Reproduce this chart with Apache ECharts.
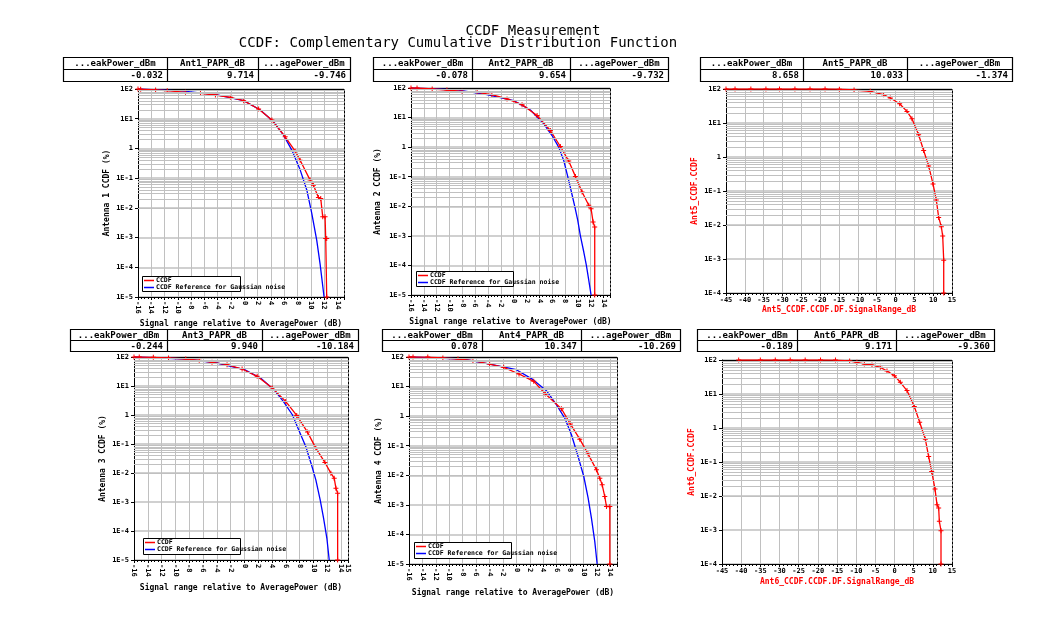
<!DOCTYPE html>
<html><head><meta charset="utf-8">
<script src="https://cdn.jsdelivr.net/npm/echarts@6/dist/echarts.min.js"></script>
<style>html,body{margin:0;padding:0;background:#fff}#c{width:1044px;height:626px}</style>
</head><body><div id="c"></div>
<script>
// ---------------- DATA ----------------
const titleLine1 = 'CCDF Measurement';
const titleLine2 = 'CCDF: Complementary Cumulative Distribution Function';

const legendNames = ['CCDF', 'CCDF Reference for Gaussian noise'];

const t1Headers = ['...eakPower_dBm', 'Ant1_PAPR_dB', '...agePower_dBm'];
const t1Values = ['-0.032', '9.714', '-9.746'];
const t2Headers = ['...eakPower_dBm', 'Ant2_PAPR_dB', '...agePower_dBm'];
const t2Values = ['-0.078', '9.654', '-9.732'];
const t3Headers = ['...eakPower_dBm', 'Ant5_PAPR_dB', '...agePower_dBm'];
const t3Values = ['8.658', '10.033', '-1.374'];
const t4Headers = ['...eakPower_dBm', 'Ant3_PAPR_dB', '...agePower_dBm'];
const t4Values = ['-0.244', '9.940', '-10.184'];
const t5Headers = ['...eakPower_dBm', 'Ant4_PAPR_dB', '...agePower_dBm'];
const t5Values = ['0.078', '10.347', '-10.269'];
const t6Headers = ['...eakPower_dBm', 'Ant6_PAPR_dB', '...agePower_dBm'];
const t6Values = ['-0.189', '9.171', '-9.360'];

const yNames = ['Antenna 1 CCDF (%)', 'Antenna 2 CCDF (%)', 'Ant5_CCDF.CCDF',
                'Antenna 3 CCDF (%)', 'Antenna 4 CCDF (%)', 'Ant6_CCDF.CCDF'];
const xNames = ['Signal range relative to AveragePower (dB)', 'Signal range relative to AveragePower (dB)',
                'Ant5_CCDF.CCDF.DF.SignalRange_dB', 'Signal range relative to AveragePower (dB)',
                'Signal range relative to AveragePower (dB)', 'Ant6_CCDF.CCDF.DF.SignalRange_dB'];

// y tick labels (log axis, %)
const yTickValues = [100, 10, 1, 0.1, 0.01, 0.001, 0.0001, 0.00001];
const yTickLabels = ['1E2', '1E1', '1', '1E-1', '1E-2', '1E-3', '1E-4', '1E-5'];

// [dB, CCDF %]
const p1Red = [[-16,100],[-15.6,99],[-13.35,92.5],[-11.6,87.8],[-8.85,77.2],[-6.6,71.5],[-4.35,62.8],[-2.1,52.4],[-0.1,40.5],[2.15,21.2],[4.15,9.0],[6.15,2.47],[7.65,0.81],[8.4,0.40],[9.9,0.086],[10.4,0.058],[11.15,0.0223],[11.5,0.0206],[11.8,0.00498],[12.15,0.00498],[12.25,0.00093],[12.4,0.00093],[12.4,0.00001]];
const p1Blue = [[-16,100],[-9.1,85],[-4.1,63],[-0.1,40.5],[2.4,19.6],[4.4,7.9],[5.9,2.8],[7.15,0.88],[8.4,0.19],[9.4,0.04],[10.15,0.0065],[10.9,0.00081],[11.4,0.00013],[12,0.00001]];

const p2Red = [[-16,100],[-15.06,100],[-12.7,92.5],[-10.4,85.7],[-8.05,77.2],[-5.7,71.5],[-3.4,59.6],[-1.04,42.6],[1.3,27.4],[3.64,11.7],[5.71,3.65],[7.27,1.05],[8.57,0.337],[9.61,0.1026],[10.65,0.0304],[11.69,0.0108],[12.05,0.0083],[12.36,0.00296],[12.62,0.00201],[12.62,0.00001]];
const p2Blue = [[-16,100],[-8.83,85.7],[-4.16,59.6],[0,37.4],[2.6,18.1],[4.68,6.1],[5.97,2.47],[7.01,1.0],[7.79,0.356],[8.42,0.1],[8.99,0.0304],[9.51,0.01],[9.97,0.0034],[10.39,0.001],[10.91,0.00029],[11.32,0.0001],[11.69,0.000032],[12.05,0.00001]];

const p3Red = [[-45,100],[-42.6,100],[-38.4,100],[-34.4,100],[-30.8,100],[-26.7,100],[-22.7,100],[-18.7,100],[-14.9,99],[-11.0,93.4],[-6.7,85.3],[-3.16,68.1],[-1.38,54.3],[1.1,36.9],[3.04,21.9],[4.37,13.3],[6.14,4.5],[7.47,1.55],[8.8,0.547],[9.96,0.161],[10.84,0.0543],[11.46,0.0167],[12.17,0.0089],[12.53,0.00472],[12.8,0.00092],[12.8,0.0001]];

const p4Red = [[-16,100],[-15.24,100],[-13.2,97.4],[-11.0,92.3],[-8.5,85.3],[-6.55,76.7],[-4.7,65.5],[-2.52,54.3],[-0.34,38.5],[1.84,21.5],[4.03,8.5],[5.97,2.95],[7.57,0.97],[9.13,0.257],[10.34,0.072],[11.65,0.0231],[12.52,0.0099],[13.0,0.00665],[13.25,0.0030],[13.5,0.00202],[13.5,0.00001]];
const p4Blue = [[-16,100],[-8.35,85.3],[-3.98,62.1],[0,36.6],[2.33,18.8],[4.27,7.45],[5.63,2.95],[6.94,1.02],[7.91,0.286],[8.88,0.0824],[9.71,0.0192],[10.34,0.00582],[10.97,0.00119],[11.46,0.000277],[11.94,0.000056],[12.28,0.00001]];

const p5Red = [[-16,100],[-15.4,100],[-13.2,99.5],[-10.95,92.5],[-8.7,85.6],[-6.47,75.2],[-3.98,57.9],[-1.89,44.7],[0.4,26.6],[2.59,15.0],[4.33,5.58],[6.72,1.78],[8.06,0.538],[9.45,0.167],[10.7,0.052],[11.94,0.0153],[12.44,0.0080],[12.79,0.00475],[13.18,0.00191],[13.43,0.00088],[13.93,0.00088],[13.93,0.00001]];
const p5Blue = [[-16,100],[-7.96,85.6],[-3.98,57.9],[0,37.2],[2.49,17.1],[4.48,7.24],[5.97,2.43],[7.21,0.86],[8.21,0.234],[9.2,0.0433],[10.05,0.0091],[10.7,0.00168],[11.19,0.000354],[11.69,0.000057],[12.04,0.00001]];

const p6Red = [[-40.65,100],[-35.0,100],[-31.1,100],[-27.2,100],[-23.3,100],[-19.3,100],[-15.4,99.5],[-11.7,93.5],[-9.8,85.4],[-7.87,76.3],[-5.87,71.3],[-3.7,60.9],[-1.96,47.6],[-0.04,34.7],[1.52,22.1],[3.26,12.6],[5.17,4.27],[6.57,1.48],[8.04,0.469],[8.91,0.145],[9.7,0.0527],[10.57,0.016],[11.09,0.00555],[11.52,0.00443],[11.7,0.0018],[12.13,0.00095],[12.13,0.0001]];

// ---------------- LAYOUT ----------------
const FONT = '"DejaVu Sans Mono", "Liberation Mono", monospace';
const grids = [
  {left:138, top:89, width:206, height:208},
  {left:411, top:88, width:199, height:207},
  {left:726, top:89, width:226, height:204},
  {left:134, top:357, width:214, height:203},
  {left:409, top:357, width:208, height:207},
  {left:722, top:360, width:230, height:204}
];
const xCfg = [
  {min:-16, max:15, interval:2, rot:-90, gap:23},
  {min:-16, max:15, interval:2, rot:-90, gap:23},
  {min:-45, max:15, interval:5, rot:0, gap:13},
  {min:-16, max:15, interval:2, rot:-90, gap:24},
  {min:-16, max:15, interval:2, rot:-90, gap:25},
  {min:-45, max:15, interval:5, rot:0, gap:14}
];
const yCfg = [
  {min:0.00001, split:7, gap:27},
  {min:0.00001, split:7, gap:29},
  {min:0.0001, split:6, gap:27},
  {min:0.00001, split:7, gap:27},
  {min:0.00001, split:7, gap:25},
  {min:0.0001, split:6, gap:25}
];
const redNames = [false,false,true,false,false,true];
const GRID_GRAY = '#c0c0c0';
const PLUS = 'path://M4,0H6V4H10V6H6V10H4V6H0V4H4Z';

function minorVals(minV) {
  const out = [];
  for (let e = Math.round(Math.log10(minV)); e < 2; e++) {
    for (let m = 2; m <= 9; m++) out.push(m * Math.pow(10, e));
  }
  return out;
}

const xAxis = [], yAxis = [], series = [];
grids.forEach((g, i) => {
  const xc = xCfg[i], yc = yCfg[i];
  const nameColor = redNames[i] ? '#ff0000' : '#000';
  xAxis.push({
    type:'value', gridIndex:i, min:xc.min, max:xc.max, interval:xc.interval,
    name: xNames[i], nameLocation:'middle', nameGap: xc.gap,
    nameTextStyle:{fontFamily:FONT, fontWeight:'bold', fontSize:8, color:nameColor},
    axisLine:{show:true, onZero:false, lineStyle:{color:'#000', width:1}},
    axisTick:{show:true, length:3, lineStyle:{color:'#000'}},
    minorTick:{show:true, splitNumber: xc.interval === 2 ? 4 : 5, length:2, lineStyle:{color:'#000'}},
    axisLabel:{rotate:xc.rot, fontFamily:FONT, fontWeight:'bold', fontSize:7, color:'#000', margin:4,
      formatter: v => String(Math.round(v*100)/100)},
    splitLine:{show:true, lineStyle:{color:GRID_GRAY, width:1}}
  });
  yAxis.push({
    type:'log', logBase:10, gridIndex:i, min:yc.min, max:100, splitNumber:yc.split,
    name: yNames[i], nameLocation:'middle', nameGap: yc.gap,
    nameTextStyle:{fontFamily:FONT, fontWeight:'bold', fontSize:8, color:nameColor},
    axisLine:{show:true, onZero:false, lineStyle:{color:'#000', width:1}},
    axisTick:{show:true, length:3, lineStyle:{color:'#000'}},
    axisLabel:{fontFamily:FONT, fontWeight:'bold', fontSize:7, color:'#000', margin:5,
      formatter: v => {
        const e = Math.round(Math.log10(v));
        const k = yTickValues.findIndex(t => Math.round(Math.log10(t)) === e);
        return k >= 0 ? yTickLabels[k] : '';
      }},
    splitLine:{show:true, lineStyle:{color:GRID_GRAY, width:1.5}}
  });
  series.push({
    type:'line', name:'grid'+i, xAxisIndex:i, yAxisIndex:i, data:[], silent:true, z:1,
    markLine:{silent:true, symbol:['none','none'], label:{show:false}, animation:false,
      lineStyle:{color:GRID_GRAY, width:1, type:'solid'},
      emphasis:{disabled:true},
      data: minorVals(yc.min).map(v => ({yAxis:v}))}
  });
});
// frame: solid top edge, dashed right edge
grids.forEach((g, i) => {
  xAxis.push({type:'value', gridIndex:i, position:'top', min:0, max:1,
    axisLine:{show:true, onZero:false, lineStyle:{color:'#000', width:1}},
    axisTick:{show:false}, axisLabel:{show:false}, splitLine:{show:false}});
  yAxis.push({type:'value', gridIndex:i, position:'right', min:0, max:1,
    axisLine:{show:true, onZero:false, lineStyle:{color:'#000', width:1, type:[2,2]}},
    axisTick:{show:false}, axisLabel:{show:false}, splitLine:{show:false}});
});

const redData = [p1Red, p2Red, p3Red, p4Red, p5Red, p6Red];
const blueData = [p1Blue, p2Blue, null, p4Blue, p5Blue, null];
redData.forEach((d, i) => {
  if (blueData[i]) {
    series.push({type:'line', name:legendNames[1], xAxisIndex:i, yAxisIndex:i, data:blueData[i],
      symbol:'none', lineStyle:{color:'#0000ff', width:1.3}, itemStyle:{color:'#0000ff'}, z:3, animation:false});
  }
  series.push({type:'line', name: blueData[i] ? legendNames[0] : yNames[i], xAxisIndex:i, yAxisIndex:i, data:d,
    symbol:PLUS, symbolSize:5, showAllSymbol:true,
    lineStyle:{color:'#ff0000', width:1.3}, itemStyle:{color:'#ff0000'}, z:4, animation:false});
});

const legendBoxes = [
  {x:142, y:276, w:98, h:15},
  {x:416, y:271, w:97, h:15},
  {x:143, y:538, w:97, h:16},
  {x:414, y:542, w:97, h:16}
];
const legend = legendBoxes.map(b => ({
  data: legendNames, left:b.x + 2, top:b.y + 1, orient:'vertical', padding:0, itemGap:0,
  itemWidth:10, itemHeight:1.5, icon:'rect', selectedMode:false, z:10,
  textStyle:{fontFamily:FONT, fontWeight:'bold', fontSize:6.5, lineHeight:7, color:'#000', padding:[0,0,0,-3]}
}));

const tables = [
  {x:[63,167,258,350], y:[57,69,81], h:t1Headers, v:t1Values},
  {x:[373,472,570,668], y:[57,69,81], h:t2Headers, v:t2Values},
  {x:[700,803,907,1012], y:[57,69,81], h:t3Headers, v:t3Values},
  {x:[70,167,262,358], y:[329,340,351], h:t4Headers, v:t4Values},
  {x:[382,482,581,680], y:[329,340,351], h:t5Headers, v:t5Values},
  {x:[697,797,896,994], y:[329,340,351], h:t6Headers, v:t6Values}
];
const graphic = [];
legendBoxes.forEach(b => graphic.push({type:'rect', shape:{x:b.x+0.5, y:b.y+0.5, width:b.w, height:b.h},
  style:{fill:'#fff', stroke:'#000', lineWidth:1}, z:2}));
tables.forEach(t => {
  const [x0,x1,x2,x3] = t.x, [y0,ym,y1] = t.y;
  graphic.push({type:'rect', shape:{x:x0+0.5, y:y0+0.5, width:x3-x0, height:y1-y0}, style:{fill:'#fff', stroke:'#000', lineWidth:1.2}});
  [x1,x2].forEach(x => graphic.push({type:'line', shape:{x1:x+0.5, y1:y0, x2:x+0.5, y2:y1}, style:{stroke:'#000', lineWidth:1.2}}));
  graphic.push({type:'line', shape:{x1:x0, y1:ym+0.5, x2:x3, y2:ym+0.5}, style:{stroke:'#000', lineWidth:1.2}});
  const xs = [x0,x1,x2,x3];
  for (let k = 0; k < 3; k++) {
    graphic.push({type:'text', style:{text:t.h[k], x:(xs[k]+xs[k+1])/2, y:(y0+ym)/2+1, textAlign:'center', textVerticalAlign:'middle',
      font:'bold 9px ' + FONT, fill:'#000'}});
    graphic.push({type:'text', style:{text:t.v[k], x:xs[k+1]-4, y:(ym+y1)/2+1, textAlign:'right', textVerticalAlign:'middle',
      font:'bold 9px ' + FONT, fill:'#000'}});
  }
});
graphic.push({type:'text', style:{text:titleLine1, x:533, y:31, textAlign:'center', textVerticalAlign:'middle', font:'14px ' + FONT, fill:'#000'}});
graphic.push({type:'text', style:{text:titleLine2, x:458, y:43, textAlign:'center', textVerticalAlign:'middle', font:'14px ' + FONT, fill:'#000'}});

const chart = echarts.init(document.getElementById('c'), null, {renderer:'canvas'});
chart.setOption({
  animation:false, backgroundColor:'#fff',
  grid: grids.map(g => Object.assign({show:false}, g)),
  xAxis, yAxis, series, legend, graphic
});
</script></body></html>
